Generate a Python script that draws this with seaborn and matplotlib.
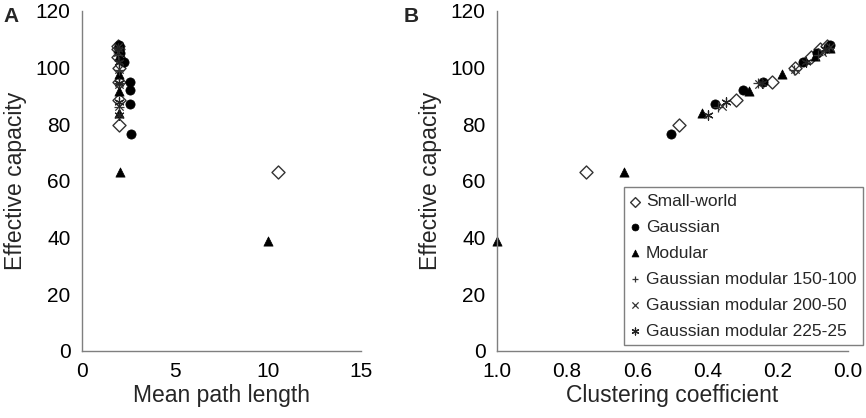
import numpy as np
import pandas as pd
import matplotlib
matplotlib.use('Agg')
import matplotlib.pyplot as plt
import seaborn as sns

sns.set_style("white")
plt.rcParams['font.family'] = ['Liberation Sans', 'DejaVu Sans']

# Data: one point per network
series_names = ['Small-world', 'Gaussian', 'Modular',
                'Gaussian modular 150-100', 'Gaussian modular 200-50',
                'Gaussian modular 225-25']

sw_cap = [63.3, 79.6, 88.5, 94.8, 100.0, 103.7, 106.5, 107.6]
sw_path = [10.55, 2.0, 2.0, 1.98, 1.98, 1.97, 1.97, 1.96]
sw_clust = [0.746, 0.480, 0.319, 0.216, 0.152, 0.106, 0.080, 0.060]

ga_cap = [76.5, 87.0, 92.0, 95.0, 101.9, 105.0, 107.2, 108.0]
ga_path = [2.66, 2.6, 2.6, 2.58, 2.25, 2.05, 2.0, 1.98]
ga_clust = [0.503, 0.378, 0.298, 0.243, 0.129, 0.089, 0.058, 0.050]

mo_cap = [38.9, 63.0, 83.9, 91.8, 97.8, 104.0, 107.0]
mo_path = [10.0, 2.06, 2.02, 2.0, 1.99, 1.98, 1.97]
mo_clust = [1.0, 0.638, 0.417, 0.281, 0.188, 0.095, 0.052]

gm150_cap = [86.0, 94.5, 99.0, 104.5, 107.0]
gm150_path = [2.0, 1.99, 1.98, 1.97, 1.97]
gm150_clust = [0.370, 0.255, 0.155, 0.085, 0.055]

gm200_cap = [86.5, 94.1, 99.4, 105.5, 107.3]
gm200_path = [2.0, 1.99, 1.98, 1.97, 1.97]
gm200_clust = [0.360, 0.252, 0.151, 0.075, 0.052]

gm225_cap = [83.2, 87.8, 94.5, 102.0, 106.5]
gm225_path = [2.02, 2.0, 1.99, 1.98, 1.97]
gm225_clust = [0.398, 0.348, 0.245, 0.120, 0.065]

frames = []
for name, cap, path, clust in zip(
        series_names,
        [sw_cap, ga_cap, mo_cap, gm150_cap, gm200_cap, gm225_cap],
        [sw_path, ga_path, mo_path, gm150_path, gm200_path, gm225_path],
        [sw_clust, ga_clust, mo_clust, gm150_clust, gm200_clust, gm225_clust]):
    frames.append(pd.DataFrame({'network': name, 'capacity': cap,
                                'path': path, 'clust': clust}))
df = pd.concat(frames, ignore_index=True)

styles = {
    'Small-world': dict(marker='D', s=44, facecolor='white', edgecolor='#333333', linewidth=1.0),
    'Gaussian': dict(marker='o', s=44, color='black', edgecolor='black', linewidth=0.5),
    'Modular': dict(marker='^', s=44, color='black', edgecolor='black', linewidth=0.5),
    'Gaussian modular 150-100': dict(marker='+', s=44, color='#333333', linewidth=0.9),
    'Gaussian modular 200-50': dict(marker='x', s=36, color='#333333', linewidth=0.9),
    'Gaussian modular 225-25': dict(marker=(6, 2, 0), s=44, color='#222222', linewidth=0.9),
}

fig = plt.figure(figsize=(8.66, 4.18), dpi=100)
axA = fig.add_axes([81.7 / 866, 1 - 350.7 / 418, 279.3 / 866, 339.7 / 418])
axB = fig.add_axes([496.7 / 866, 1 - 350.7 / 418, 351.3 / 866, 339.7 / 418])

for name in series_names:
    sub = df[df['network'] == name]
    sns.scatterplot(data=sub, x='path', y='capacity', ax=axA, label=name, legend=False, **styles[name])
    sns.scatterplot(data=sub, x='clust', y='capacity', ax=axB, label=name, legend=False, **styles[name])

spine_col = '#7f7f7f'
for ax in (axA, axB):
    ax.set_ylim(0, 120)
    ax.set_yticks([0, 20, 40, 60, 80, 100, 120])
    ax.spines['top'].set_visible(False)
    ax.spines['right'].set_visible(False)
    for sp in ('left', 'bottom'):
        ax.spines[sp].set_color(spine_col)
        ax.spines[sp].set_linewidth(1.0)
    ax.tick_params(axis='both', direction='out', length=5, width=1.0,
                   color=spine_col, labelsize=15, labelcolor='black', pad=3)
    ax.set_ylabel('Effective capacity', fontsize=16.5, labelpad=6)
    ax.set_facecolor('white')
    for h in ax.collections:
        h.set_clip_on(False)

axA.set_xlim(0, 15)
axA.set_xticks([0, 5, 10, 15])
axA.set_xlabel('Mean path length', fontsize=16.5, labelpad=2)

axB.set_xlim(1.0, 0.0)
axB.set_xticks([1.0, 0.8, 0.6, 0.4, 0.2, 0.0])
axB.set_xticklabels(['1.0', '0.8', '0.6', '0.4', '0.2', '0.0'])
axB.set_xlabel('Clustering coefficient', fontsize=16.5, labelpad=2)

handles = list(axB.collections)
leg = axB.legend(handles, series_names, loc='lower right',
                 bbox_to_anchor=(863 / 866, 1 - 345.3 / 418),
                 bbox_transform=fig.transFigure, borderaxespad=0,
                 fontsize=12.5, frameon=True, fancybox=False,
                 edgecolor=spine_col, framealpha=1, handlelength=0.6,
                 handletextpad=0.3, labelspacing=0.62, borderpad=0.38,
                 markerscale=0.75)
leg.get_frame().set_linewidth(1.0)

fig.text(3 / 866, 1 - 17 / 418, 'A', fontsize=15, fontweight='bold', va='center', ha='left')
fig.text(404 / 866, 1 - 17 / 418, 'B', fontsize=15, fontweight='bold', va='center', ha='left')

fig.savefig('out.png', dpi=100)
